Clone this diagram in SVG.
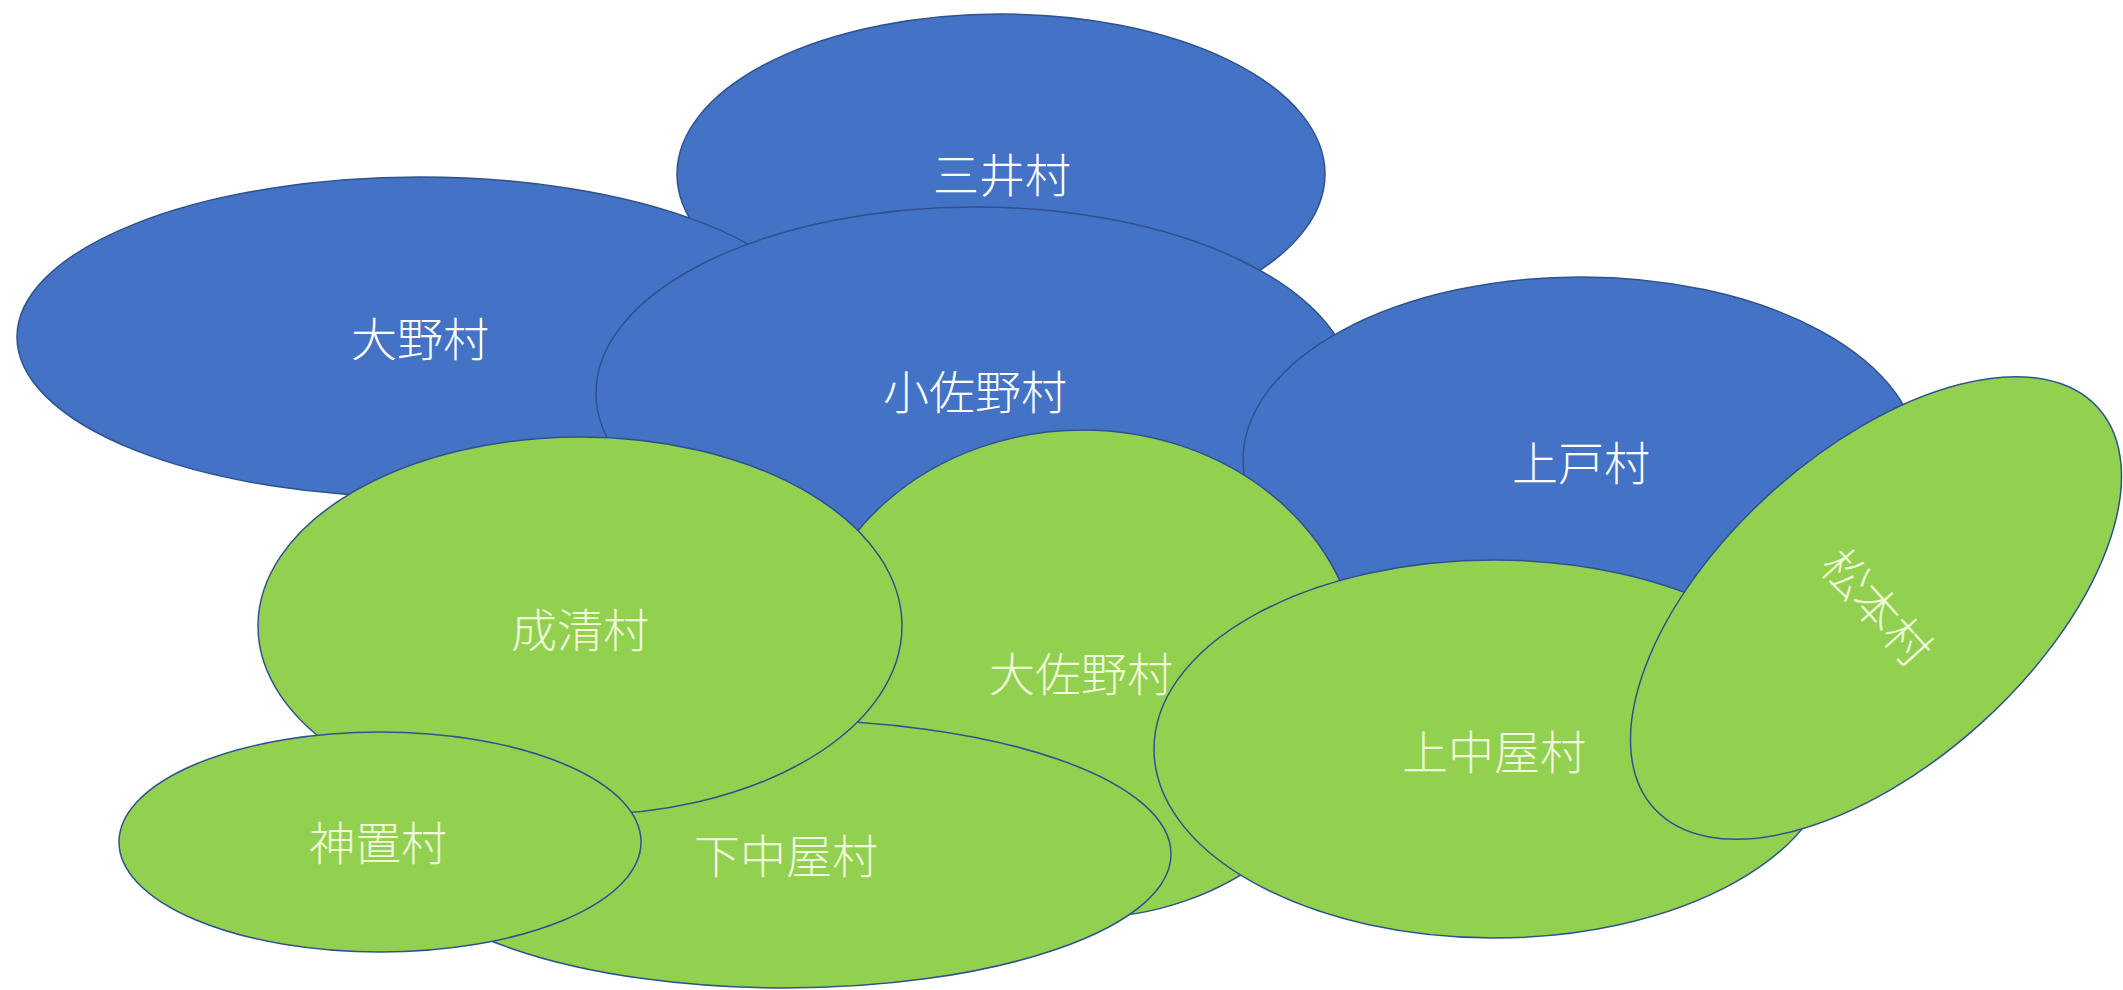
<svg xmlns="http://www.w3.org/2000/svg" width="2123" height="990" viewBox="0 0 2123 990">
<style>
.b{fill:#4472C4;stroke:#2F528F;stroke-width:1.5}
.g{fill:#92D050;stroke:#2F528F;stroke-width:1.5}
.t{font-family:"Noto Sans CJK JP","Noto Sans CJK SC",sans-serif;font-size:46px;font-weight:300;fill:#FFFFFF;text-anchor:middle;dominant-baseline:central}
.tg{fill:#F0F9DA}
</style>
<rect width="2123" height="990" fill="#FFFFFF"/>
<g id="connectors"/>
<g id="mitsui"><ellipse class="b" cx="1001" cy="174" rx="324" ry="160"/><text class="t" x="1002" y="172">三井村</text></g>
<g id="ono"><ellipse class="b" cx="420" cy="337" rx="403" ry="160"/><text class="t" x="420" y="336">大野村</text></g>
<g id="kosano"><ellipse class="b" cx="975" cy="393" rx="379" ry="186"/><text class="t" x="975" y="389">小佐野村</text></g>
<g id="uwado"><ellipse class="b" cx="1581" cy="460" rx="338" ry="183"/><text class="t" x="1581" y="460">上戸村</text></g>
<g id="osano"><ellipse class="g" cx="1083" cy="674" rx="278" ry="244"/><text class="t tg" x="1081" y="671">大佐野村</text></g>
<g id="shimonakaya"><ellipse class="g" cx="785" cy="854" rx="386" ry="134"/><text class="t tg" x="786" y="853">下中屋村</text></g>
<g id="narukiyo"><ellipse class="g" cx="580" cy="626" rx="322" ry="189"/><text class="t tg" x="580" y="627">成清村</text></g>
<g id="jinoki"><ellipse class="g" cx="380" cy="842" rx="261" ry="110"/><text class="t tg" x="378" y="840">神置村</text></g>
<g id="kaminakaya"><ellipse class="g" cx="1494" cy="749" rx="340" ry="189"/><text class="t tg" x="1494" y="749">上中屋村</text></g>
<g id="matsumoto" transform="translate(1876 608) rotate(48)"><ellipse class="g" cx="0" cy="0" rx="156" ry="299"/><text class="t tg" x="0" y="-4">松本村</text></g>
</svg>
